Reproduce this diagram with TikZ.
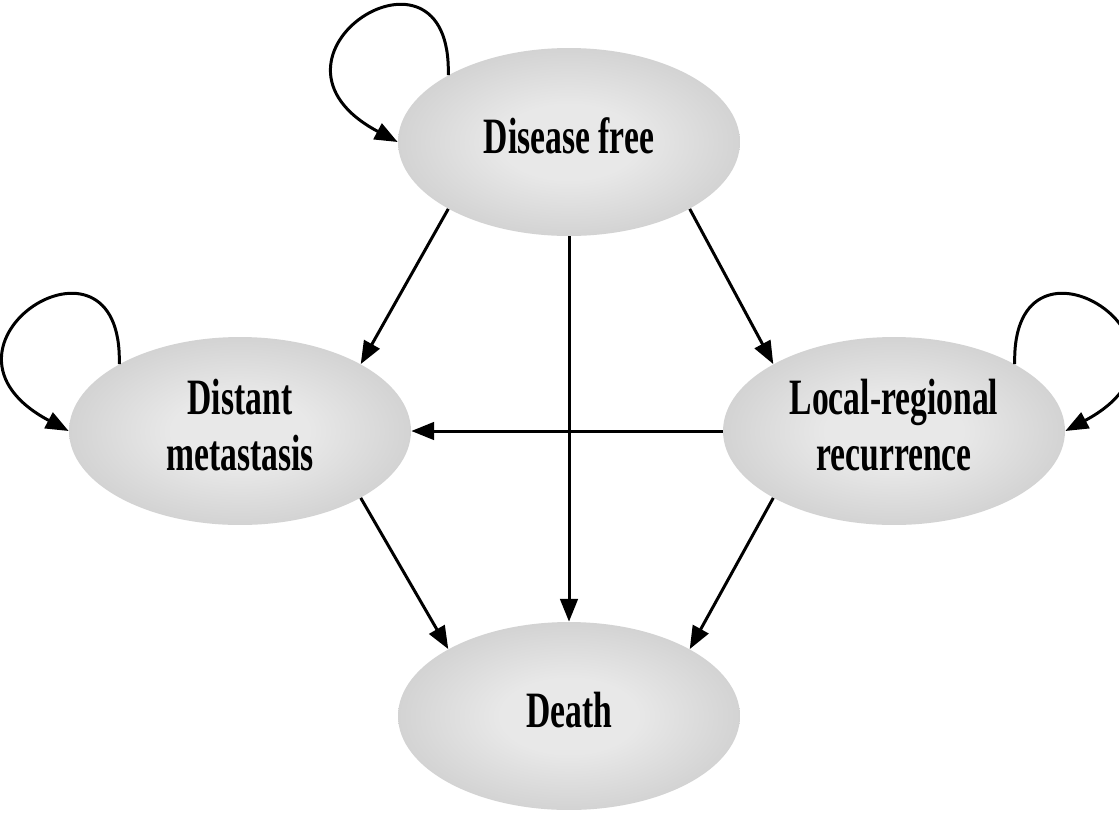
\documentclass[tikz,border=0pt]{standalone}
\usepackage{fontspec}
\setmainfont{Liberation Serif}
\usepackage{graphicx}
\usepackage{tikz}
\usetikzlibrary{arrows.meta, shapes.geometric}

\definecolor{ovallight}{RGB}{232,232,232}
\definecolor{ovaldark}{RGB}{176,176,176}
\pgfdeclareradialshading{ovalshade}{\pgfpoint{0bp}{0bp}}{%
  color(0bp)=(ovallight); color(10bp)=(ovallight);
  color(50bp)=(ovaldark); color(100bp)=(ovaldark)}

\newcommand{\squeeze}[1]{\scalebox{0.66}[1]{\begin{tabular}{@{}c@{}}#1\end{tabular}}}

\begin{document}
\begin{tikzpicture}[
x=0.02cm, y=-0.02cm,
state/.style={
    ellipse,
    shading=ovalshade,
    inner sep=0pt,
    minimum width=6.84cm,
    minimum height=3.76cm,
    font=\fontsize{29pt}{32pt}\selectfont\bfseries
},
arrow/.style={-{Triangle[length=13pt, width=10pt]}, line width=1.7pt}
]
\useasboundingbox (0,0) rectangle (1119,812);

% States
\node[state] (free) at (569,142) {\squeeze{Disease free}};
\node[state] (distant) at (240,431) {\squeeze{Distant\\metastasis}};
\node[state] (local) at (894,431) {\squeeze{Local-regional\\recurrence}};
\node[state] (death) at (569,716) {\squeeze{Death}};

% Transitions
\draw[arrow] (free.209) -- (distant.29);
\draw[arrow] (free.331) -- (local.151);
\draw[arrow] (free) -- (death);
\draw[arrow] (local) -- (distant);
\draw[arrow] (distant.331) -- (death.151);
\draw[arrow] (local.209) -- (death.29);

% Self loops
\draw[arrow] (free.151) .. controls +(4,-155) and +(-160,-85) .. (free.west);
\draw[arrow] (distant.151) .. controls +(4,-155) and +(-160,-85) .. (distant.west);
\draw[arrow] (local.29) .. controls +(-4,-155) and +(160,-85) .. (local.east);

\end{tikzpicture}
\end{document}
